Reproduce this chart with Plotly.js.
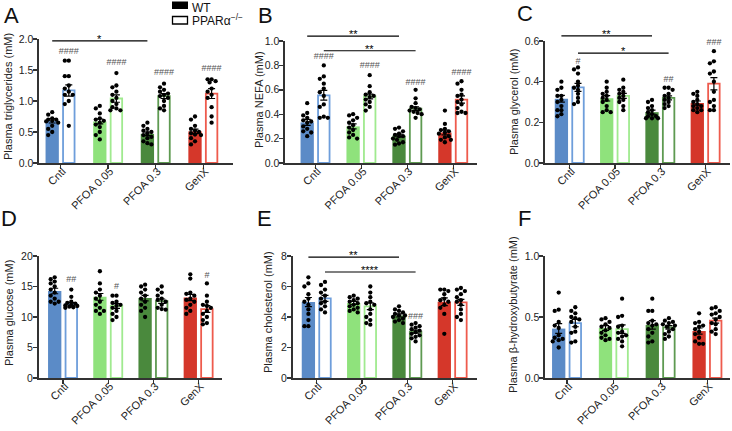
<!DOCTYPE html>
<html><head><meta charset="utf-8">
<script src="https://cdn.plot.ly/plotly-3.0.1.min.js"></script>
<style>html,body{margin:0;padding:0;background:#fff}</style>
</head><body><div id="chart" style="width:732px;height:431px"></div>
<script>
const groups = ['Cntl','PFOA 0.05','PFOA 0.3','GenX'];
const wtFill = ['#5b8bc7','#8fe27c','#4a893d','#d5372a'];
const koLine = ['#6e9edb','#a0ea8f','#5e9a51','#ee5b4d'];

// A: triglycerides
const tgWTMean = [0.68,0.67,0.47,0.51];
const tgWTSem  = [0.035,0.04,0.03,0.035];
const tgKOMean = [1.17,1.04,1.08,1.12];
const tgKOSem  = [0.09,0.06,0.04,0.08];
const tgWTPts = [
 [0.82,0.78,0.72,0.70,0.70,0.68,0.67,0.65,0.60,0.55,0.50,0.45],
 [0.92,0.88,0.80,0.72,0.70,0.68,0.65,0.62,0.58,0.50,0.45,0.38],
 [0.65,0.60,0.55,0.52,0.50,0.48,0.45,0.42,0.40,0.35,0.32,0.30],
 [0.75,0.70,0.60,0.55,0.52,0.50,0.48,0.46,0.45,0.40,0.35,0.30]];
const tgKOPts = [
 [1.65,1.65,1.40,1.40,1.25,1.20,1.15,1.10,1.10,1.00,0.95,0.60],
 [1.45,1.25,1.22,1.15,1.10,1.05,1.00,0.95,0.90,0.88,0.85,0.85],
 [1.28,1.22,1.18,1.15,1.12,1.10,1.08,1.05,1.00,0.92,0.88,0.85],
 [1.35,1.35,1.32,1.30,1.20,1.15,1.10,1.05,0.90,0.75,0.65]];
const tgHash = ['####','####','####','####'];
const tgHashY = [1.80,1.61,1.45,1.52];
const tgSig = [[0,'wt',2,'wt',1.97,'*']];

// B: NEFA
const nefaWTMean = [0.333,0.30,0.225,0.25];
const nefaWTSem  = [0.025,0.02,0.012,0.02];
const nefaKOMean = [0.555,0.545,0.445,0.52];
const nefaKOSem  = [0.04,0.02,0.015,0.03];
const nefaWTPts = [
 [0.49,0.41,0.39,0.37,0.35,0.34,0.33,0.30,0.28,0.26,0.25,0.22],
 [0.40,0.39,0.37,0.35,0.33,0.31,0.29,0.27,0.25,0.23,0.21,0.20],
 [0.29,0.28,0.26,0.24,0.23,0.22,0.22,0.20,0.19,0.17,0.16,0.15],
 [0.43,0.32,0.28,0.27,0.26,0.25,0.24,0.22,0.21,0.19,0.19,0.17]];
const nefaKOPts = [
 [0.80,0.71,0.69,0.65,0.61,0.58,0.55,0.48,0.46,0.38,0.37,0.37],
 [0.72,0.63,0.58,0.56,0.55,0.54,0.52,0.50,0.48,0.46,0.43],
 [0.60,0.53,0.49,0.46,0.45,0.44,0.43,0.42,0.41,0.40,0.37],
 [0.67,0.65,0.60,0.56,0.55,0.52,0.50,0.48,0.45,0.42,0.41,0.41]];
const nefaHash = ['####','####','####','####'];
const nefaHashY = [0.87,0.80,0.66,0.74];
const nefaSig = [[0,'wt',2,'wt',1.04,'**'],[0,'ko',2,'ko',0.92,'**']];

// C: glycerol
const glyWTMean = [0.316,0.318,0.25,0.295];
const glyWTSem  = [0.017,0.013,0.01,0.01];
const glyKOMean = [0.372,0.33,0.32,0.39];
const glyKOSem  = [0.02,0.012,0.01,0.03];
const glyWTPts = [
 [0.40,0.37,0.36,0.33,0.33,0.31,0.30,0.28,0.26,0.26,0.23,0.24],
 [0.40,0.37,0.35,0.34,0.33,0.32,0.31,0.30,0.28,0.26,0.25,0.25],
 [0.31,0.30,0.28,0.27,0.26,0.25,0.24,0.23,0.23,0.22,0.22,0.22],
 [0.35,0.34,0.33,0.31,0.30,0.29,0.28,0.28,0.27,0.26,0.26,0.25]];
const glyKOPts = [
 [0.47,0.46,0.44,0.40,0.38,0.37,0.36,0.34,0.32,0.30,0.29],
 [0.41,0.37,0.36,0.35,0.34,0.33,0.32,0.31,0.30,0.28,0.26],
 [0.37,0.37,0.36,0.34,0.33,0.32,0.31,0.30,0.29,0.28,0.27],
 [0.55,0.50,0.49,0.45,0.44,0.40,0.35,0.31,0.30,0.28,0.26,0.26]];
const glyHash = ['#','','##','###'];
const glyHashY = [0.50,0,0.41,0.59];
const glySig = [[0,'wt',2,'wt',0.625,'**'],[0,'ko',2,'ko',0.54,'*']];

// D: glucose
const gluWTMean = [14.26,13.3,13.1,13.2];
const gluWTSem  = [0.45,0.55,0.45,0.5];
const gluKOMean = [12.1,11.8,12.6,11.3];
const gluKOSem  = [0.25,0.4,0.35,0.55];
const gluWTPts = [
 [16.5,16.2,15.8,15.5,15.0,14.5,14.0,13.5,13.0,12.5,12.5,12.2],
 [17.5,15.5,14.5,14.0,13.5,13.0,12.5,12.0,11.5,11.0,11.0,10.5],
 [15.3,15.0,14.5,14.0,13.5,13.0,12.5,12.0,11.5,11.0,10.0],
 [17.0,16.3,14.0,13.8,13.5,13.0,12.8,12.5,12.0,11.5,11.0,10.5]];
const gluKOPts = [
 [14.5,13.3,12.5,12.3,12.2,12.0,11.9,11.8,11.7,11.6,11.5],
 [13.5,13.5,12.5,12.3,12.0,11.8,11.5,11.0,10.5,10.0,9.5],
 [15.0,14.5,14.0,13.5,13.0,12.8,12.5,12.0,11.5,11.3,11.2],
 [15.5,13.5,12.5,12.0,11.8,11.5,11.0,10.5,10.0,9.5,9.0,8.8]];
const gluHash = ['##','#','','#'];
const gluHashY = [16.1,15.0,0,16.8];
const gluSig = [];

// E: cholesterol
const choWTMean = [4.98,4.92,4.1,5.0];
const choWTSem  = [0.3,0.1,0.1,0.25];
const choKOMean = [5.22,4.7,3.04,4.96];
const choKOSem  = [0.2,0.22,0.1,0.2];
const choWTPts = [
 [6.6,6.2,6.0,5.5,5.2,5.0,4.8,4.5,4.2,3.8,3.4,3.4],
 [5.4,5.3,5.2,5.1,5.0,4.9,4.8,4.7,4.6,4.5,4.4,4.3],
 [4.7,4.5,4.4,4.3,4.2,4.1,4.1,4.0,3.9,3.8,3.7,3.6],
 [5.8,5.8,5.7,5.5,5.2,5.1,5.0,4.8,4.6,4.2,2.9]];
const choKOPts = [
 [6.3,6.1,5.8,5.6,5.4,5.2,5.0,4.9,4.7,4.5,4.3],
 [6.0,5.6,5.3,5.0,4.9,4.8,4.5,4.2,4.0,3.8,3.6,3.5],
 [3.6,3.5,3.4,3.3,3.2,3.1,3.0,2.9,2.8,2.7,2.6,2.4],
 [5.9,5.8,5.7,5.5,5.3,5.1,5.0,4.8,4.5,4.2,4.0,3.8]];
const choHash = ['','','###',''];
const choHashY = [0,0,4.0,0];
const choSig = [[0,'wt',2,'wt',7.93,'**'],[0,'ko',2,'ko',6.95,'****']];

// F: beta-hydroxybutyrate
const bhbWTMean = [0.405,0.41,0.435,0.385];
const bhbWTSem  = [0.04,0.02,0.035,0.025];
const bhbKOMean = [0.45,0.40,0.415,0.47];
const bhbKOSem  = [0.03,0.035,0.015,0.02];
const bhbWTPts = [
 [0.70,0.56,0.55,0.46,0.43,0.41,0.35,0.33,0.32,0.31,0.30,0.25],
 [0.49,0.48,0.46,0.44,0.42,0.41,0.39,0.37,0.35,0.33,0.32,0.31],
 [0.65,0.55,0.55,0.47,0.45,0.44,0.43,0.40,0.37,0.34,0.30,0.29],
 [0.53,0.46,0.45,0.43,0.42,0.40,0.38,0.36,0.33,0.30,0.28,0.28]];
const bhbKOPts = [
 [0.58,0.55,0.53,0.50,0.49,0.48,0.46,0.42,0.38,0.37,0.30,0.29],
 [0.65,0.51,0.50,0.43,0.42,0.38,0.37,0.35,0.34,0.32,0.30,0.26],
 [0.49,0.47,0.46,0.45,0.44,0.43,0.42,0.40,0.38,0.36,0.34,0.32],
 [0.58,0.57,0.55,0.53,0.52,0.50,0.48,0.45,0.44,0.40,0.38,0.36]];
const bhbHash = ['','','',''];
const bhbHashY = [0,0,0,0];
const bhbSig = [];

const W = 732, H = 431;
const FONT = 'Liberation Sans, Arial, sans-serif';

const panels = [
 {letter:'A', title:'Plasma triglycerides (mM)', wtM:tgWTMean, wtS:tgWTSem, koM:tgKOMean, koS:tgKOSem, wtP:tgWTPts, koP:tgKOPts, hash:tgHash, hashY:tgHashY, sig:tgSig,
  ymax:2.0, dtick:0.5, fmt:'.1f', box:{l:39,r:233,t:39,b:163,c0:60.5,s:47.6}, tx:8, ty:97, lx:11, ly:15},
 {letter:'B', title:'Plasma NEFA (mM)', wtM:nefaWTMean, wtS:nefaWTSem, koM:nefaKOMean, koS:nefaKOSem, wtP:nefaWTPts, koP:nefaKOPts, hash:nefaHash, hashY:nefaHashY, sig:nefaSig,
  ymax:1.0, dtick:0.2, fmt:'.1f', box:{l:285,r:477,t:41,b:163,c0:315.5,s:45.9}, tx:259, ty:100, lx:265, ly:15},
 {letter:'C', title:'Plasma glycerol (mM)', wtM:glyWTMean, wtS:glyWTSem, koM:glyKOMean, koS:glyKOSem, wtP:glyWTPts, koP:glyKOPts, hash:glyHash, hashY:glyHashY, sig:glySig,
  ymax:0.6, dtick:0.2, fmt:'.1f', box:{l:545,r:730,t:41,b:163,c0:569.7,s:45.3}, tx:514, ty:102, lx:525, ly:13},
 {letter:'D', title:'Plasma glucose (mM)', wtM:gluWTMean, wtS:gluWTSem, koM:gluKOMean, koS:gluKOSem, wtP:gluWTPts, koP:gluKOPts, hash:gluHash, hashY:gluHashY, sig:gluSig,
  ymax:20, dtick:5, fmt:'d', box:{l:38.5,r:222,t:256,b:378,c0:63,s:45.2}, tx:9, ty:313, lx:9, ly:219},
 {letter:'E', title:'Plasma cholesterol (mM)', wtM:choWTMean, wtS:choWTSem, koM:choKOMean, koS:choKOSem, wtP:choWTPts, koP:choKOPts, hash:choHash, hashY:choHashY, sig:choSig,
  ymax:8, dtick:2, fmt:'d', box:{l:292.5,r:477,t:256,b:378,c0:316.7,s:45.3}, tx:268, ty:312, lx:264, ly:219},
 {letter:'F', title:'Plasma β-hydroxybutyrate (mM)', wtM:bhbWTMean, wtS:bhbWTSem, koM:bhbKOMean, koS:bhbKOSem, wtP:bhbWTPts, koP:bhbKOPts, hash:bhbHash, hashY:bhbHashY, sig:bhbSig,
  ymax:1.0, dtick:0.5, fmt:'.1f', box:{l:545,r:730,t:256,b:378,c0:567,s:46.8}, tx:513, ty:315, lx:524, ly:219}
];

function swarm(vals, pxY){
  const placed = []; const offs = new Array(vals.length);
  const order = vals.map((v,i)=>i).sort((a,b)=>vals[b]-vals[a]);
  const cands = [0,-4,4,-2,2,-6,6];
  order.forEach(i=>{
    const y = vals[i]*pxY; let best = 0, bestD = -1;
    for (const c of cands){
      let md = Infinity;
      for (const p of placed){ const d = Math.hypot(p[0]-c, p[1]-y); if (d < md) md = d; }
      if (md >= 4){ best = c; bestD = md; break; }
      if (md > bestD){ bestD = md; best = c; }
    }
    placed.push([best,y]); offs[i] = best;
  });
  return offs;
}

const traces = [], shapes = [], annotations = [];
const layout = {width:W, height:H, margin:{l:0,r:0,t:0,b:0}, showlegend:false, barmode:'overlay',
  paper_bgcolor:'#fff', plot_bgcolor:'rgba(0,0,0,0)', font:{family:FONT, size:11, color:'#222'}};

panels.forEach((p, k)=>{
  const n = k===0 ? '' : String(k+1);
  const xa = 'x'+n, ya = 'y'+n;
  const b = p.box;
  const off = 8.3/b.s, bw = 13.3/b.s, pxY = (b.b-b.t)/p.ymax;
  const gx = groups.map((g,i)=>i);
  layout['xaxis'+n] = {domain:[b.l/W, b.r/W], range:[(b.l-b.c0)/b.s, (b.r-b.c0)/b.s], anchor:ya,
    showline:true, linecolor:'#333', linewidth:1.6, showgrid:false, zeroline:false,
    tickmode:'array', tickvals:gx, ticktext:groups, ticks:'outside', ticklen:4, tickwidth:1.4, tickcolor:'#333',
    tickangle:-45, ticklabelstandoff:-8, ticklabelshift:2, tickfont:{size:11, color:'#222'}, fixedrange:true};
  layout['yaxis'+n] = {domain:[1-b.b/H, 1-b.t/H], range:[0,p.ymax], anchor:xa,
    showline:true, linecolor:'#333', linewidth:1.6, showgrid:false, zeroline:false,
    tick0:0, dtick:p.dtick, tickformat:p.fmt, ticks:'outside', ticklen:4, tickwidth:1.4, tickcolor:'#333',
    ticklabelstandoff:-2, tickfont:{size:10.5, color:'#222'}, fixedrange:true};
  // bars
  traces.push({type:'bar', xaxis:xa, yaxis:ya, x:gx.map(i=>i-off), y:p.wtM, width:bw,
    marker:{color:wtFill, line:{width:0}},
    error_y:{type:'data', array:p.wtS, visible:true, color:'#000', thickness:1.2, width:3.5}});
  traces.push({type:'bar', xaxis:xa, yaxis:ya, x:gx.map(i=>i+off), y:p.koM, width:bw-1.8/b.s,
    marker:{color:'#fff', line:{width:1.8, color:koLine}},
    error_y:{type:'data', array:p.koS, visible:true, color:'#000', thickness:1.2, width:3.5}});
  // points
  const px = [], py = [];
  [[p.wtP,-off],[p.koP,off]].forEach(([sets,o])=>{
    sets.forEach((vals,gi)=>{
      const sw = swarm(vals, pxY);
      vals.forEach((v,j)=>{ px.push(gi+o+sw[j]/b.s); py.push(v); });
    });
  });
  traces.push({type:'scatter', mode:'markers', xaxis:xa, yaxis:ya, x:px, y:py, cliponaxis:false,
    marker:{size:4.3, color:'#000'}, hoverinfo:'skip'});
  // hash labels
  const hx=[], hy=[], ht=[];
  p.hash.forEach((t,i)=>{ if(t){ hx.push(i+off); hy.push(p.hashY[i]); ht.push(t);} });
  if (ht.length) traces.push({type:'scatter', mode:'text', xaxis:xa, yaxis:ya, x:hx, y:hy, text:ht,
    textposition:'middle center', cliponaxis:false, textfont:{size:9, color:'#555', family:FONT}, hoverinfo:'skip'});
  // significance bars
  p.sig.forEach(([g1,s1,g2,s2,yv,lab])=>{
    const x1 = g1 + (s1==='wt'?-off:off), x2 = g2 + (s2==='wt'?-off:off);
    shapes.push({type:'line', xref:xa, yref:ya+' domain', x0:x1, x1:x2, y0:yv/p.ymax, y1:yv/p.ymax,
      line:{color:'#000', width:1.2}});
    const yPix = b.b - yv*pxY - 2;
    annotations.push({xref:xa, yref:'paper', x:(x1+x2)/2, y:1-yPix/H, text:lab, showarrow:false,
      xanchor:'center', yanchor:'middle', font:{size:11, color:'#000', family:FONT}});
  });
  // y title
  annotations.push({xref:'paper', yref:'paper', x:p.tx/W, y:1-p.ty/H, text:p.title, textangle:-90,
    showarrow:false, xanchor:'center', yanchor:'middle', font:{size:11, color:'#222', family:FONT}});
  // panel letter
  annotations.push({xref:'paper', yref:'paper', x:p.lx/W, y:1-p.ly/H, text:p.letter,
    showarrow:false, xanchor:'center', yanchor:'middle', font:{size:22, color:'#111', family:FONT}});
});

// legend
shapes.push({type:'rect', xref:'paper', yref:'paper', x0:172/W, x1:188/W, y0:1-9/H, y1:1-1.5/H,
  fillcolor:'#000', line:{width:0}});
shapes.push({type:'rect', xref:'paper', yref:'paper', x0:172.5/W, x1:187.5/W, y0:1-24/H, y1:1-16.5/H,
  fillcolor:'#fff', line:{width:1.3, color:'#000'}});
annotations.push({xref:'paper', yref:'paper', x:191/W, y:1, text:'WT', showarrow:false, borderpad:0,
  xanchor:'left', yanchor:'top', font:{size:12, color:'#111', family:FONT}});
annotations.push({xref:'paper', yref:'paper', x:190/W, y:1-20/H, text:'PPARα<sup>−/−</sup>', showarrow:false,
  xanchor:'left', yanchor:'middle', font:{size:12, color:'#111', family:FONT}});

layout.shapes = shapes;
layout.annotations = annotations;
Plotly.newPlot('chart', traces, layout, {displayModeBar:false, staticPlot:true});
</script></body></html>
